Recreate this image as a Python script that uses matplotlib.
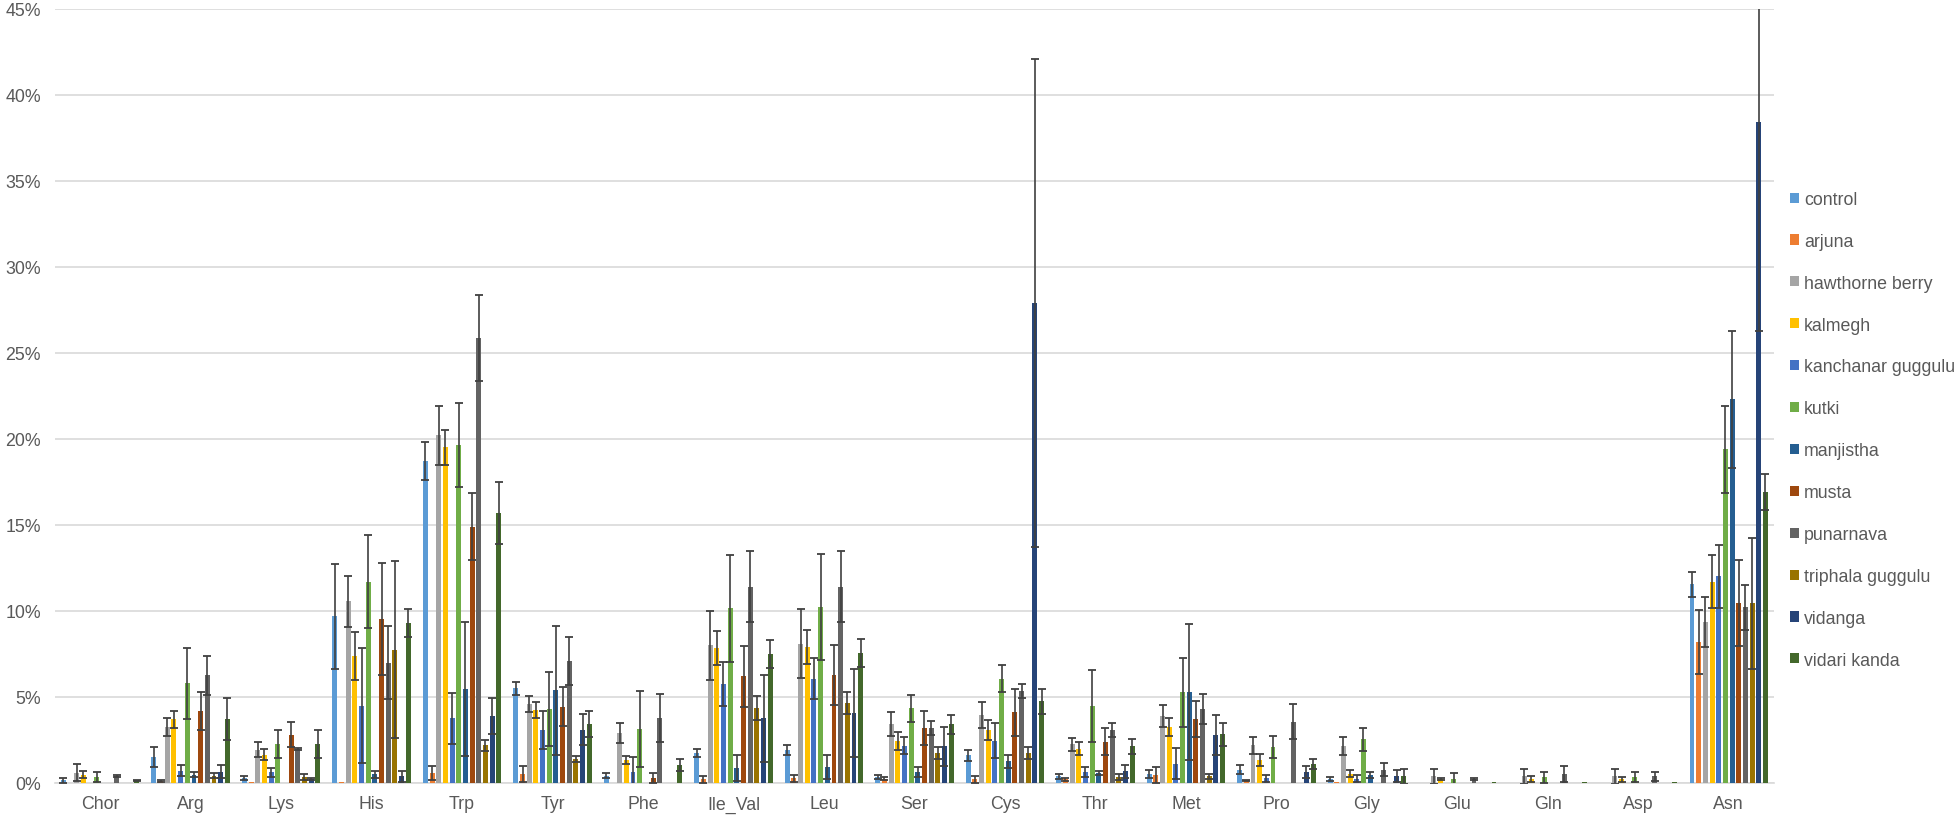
#!/usr/bin/env python3

import matplotlib
matplotlib.use("Agg")
import matplotlib.pyplot as plt
from matplotlib.patches import Patch
from matplotlib.ticker import PercentFormatter
import numpy as np

categories = ['Chor', 'Arg', 'Lys', 'His', 'Trp', 'Tyr', 'Phe', 'Ile_Val', 'Leu', 'Ser',
              'Cys', 'Thr', 'Met', 'Pro', 'Gly', 'Glu', 'Gln', 'Asp', 'Asn']

series_names = ['control', 'arjuna', 'hawthorne berry', 'kalmegh', 'kanchanar guggulu',
                'kutki', 'manjistha', 'musta', 'punarnava', 'triphala guggulu',
                'vidanga', 'vidari kanda']

colors = ['#5B9BD5', '#ED7D31', '#A5A5A5', '#FFC000', '#4472C4', '#70AD47',
          '#255E91', '#9E480E', '#636363', '#997300', '#264478', '#43682B']

# mean values (%) per series, one per category
control = [0.15, 1.5, 0.3, 9.7, 18.7, 5.5, 0.43, 1.75, 1.9, 0.35, 1.6, 0.38, 0.53, 0.78, 0.24, 0, 0, 0, 11.55]
arjuna = [0, 0.1, 0.05, 0.05, 0.58, 0.54, 0, 0.2, 0.27, 0.25, 0.2, 0.2, 0.47, 0.14, 0.05, 0, 0, 0, 8.2]
hawthorne = [0.6, 3.25, 1.92, 10.55, 20.2, 4.58, 2.9, 8.0, 8.1, 3.4, 3.95, 2.25, 3.9, 2.2, 2.16, 0.39, 0.39, 0.39, 9.35]
kalmegh = [0.47, 3.7, 1.65, 7.4, 19.5, 4.24, 1.34, 7.85, 7.9, 2.44, 3.08, 1.98, 3.27, 1.35, 0.53, 0.23, 0.23, 0.2, 11.7]
kanchanar = [0, 0.72, 0.62, 4.5, 3.75, 3.08, 0.62, 5.75, 6.05, 2.17, 2.44, 0.63, 1.12, 0.27, 0.24, 0, 0, 0, 12.0]
kutki = [0.33, 5.8, 2.25, 11.7, 19.65, 4.28, 3.14, 10.15, 10.2, 4.33, 6.06, 4.48, 5.27, 2.1, 2.53, 0.2, 0.33, 0.33, 19.4]
manjistha = [0, 0.48, 0, 0.5, 5.45, 5.38, 0, 0.87, 0.95, 0.63, 1.25, 0.58, 5.29, 0, 0.47, 0, 0, 0, 22.3]
musta = [0, 4.2, 2.8, 9.55, 14.9, 4.44, 0.3, 6.2, 6.25, 3.2, 4.1, 2.4, 3.73, 0, 0, 0, 0, 0, 10.45]
punarnava = [0.4, 6.25, 1.96, 7.0, 25.85, 7.08, 3.78, 11.4, 11.4, 3.2, 5.35, 3.08, 4.31, 3.57, 0.78, 0.23, 0.52, 0.39, 10.2]
triphala = [0, 0.43, 0.33, 7.75, 2.18, 1.38, 0, 4.34, 4.63, 1.73, 1.73, 0.35, 0.39, 0, 0, 0, 0, 0, 10.45]
vidanga = [0, 0.66, 0.23, 0.38, 3.88, 3.08, 0, 3.76, 4.07, 2.13, 27.9, 0.67, 2.78, 0.63, 0.43, 0, 0, 0, 38.4]
vidari = [0.15, 3.72, 2.27, 9.3, 15.7, 3.44, 1.05, 7.5, 7.56, 3.4, 4.75, 2.12, 2.82, 1.12, 0.39, 0.05, 0.08, 0.05, 16.9]

# error (+/-, %)
control_err = [0.13, 0.6, 0.13, 3.05, 1.1, 0.38, 0.15, 0.23, 0.29, 0.1, 0.33, 0.13, 0.24, 0.24, 0.1, 0, 0, 0, 0.73]
arjuna_err = [0, 0.05, 0, 0, 0.42, 0.46, 0, 0.23, 0.2, 0.1, 0.2, 0.1, 0.45, 0.05, 0, 0, 0, 0, 1.85]
hawthorne_err = [0.5, 0.55, 0.43, 1.46, 1.72, 0.46, 0.56, 2.0, 2.0, 0.7, 0.77, 0.38, 0.65, 0.49, 0.53, 0.43, 0.43, 0.43, 1.46]
kalmegh_err = [0.2, 0.5, 0.33, 1.4, 1.02, 0.44, 0.25, 1.0, 0.97, 0.5, 0.58, 0.38, 0.53, 0.35, 0.2, 0.05, 0.2, 0.15, 1.55]
kanchanar_err = [0, 0.33, 0.27, 3.36, 1.5, 1.12, 0.9, 1.26, 1.2, 0.48, 1.02, 0.29, 0.92, 0.2, 0.2, 0, 0, 0, 1.84]
kutki_err = [0.3, 2.07, 0.8, 2.72, 2.44, 2.16, 2.19, 3.1, 3.08, 0.77, 0.77, 2.1, 2.02, 0.63, 0.65, 0.37, 0.33, 0.3, 2.54]
manjistha_err = [0, 0.14, 0, 0.2, 3.9, 3.76, 0, 0.76, 0.7, 0.3, 0.38, 0.1, 3.96, 0, 0.16, 0, 0, 0, 4.0]
musta_err = [0, 1.1, 0.72, 3.26, 1.94, 1.16, 0.3, 1.78, 1.74, 1.0, 1.38, 0.77, 1.06, 0, 0, 0, 0, 0, 2.5]
punarnava_err = [0.05, 1.15, 0.05, 2.12, 2.5, 1.4, 1.4, 2.07, 2.07, 0.4, 0.42, 0.42, 0.88, 1.04, 0.39, 0.05, 0.45, 0.27, 1.32]
triphala_err = [0, 0.15, 0.17, 5.16, 0.3, 0.16, 0, 0.7, 0.64, 0.33, 0.33, 0.17, 0.14, 0, 0, 0, 0, 0, 3.8]
vidanga_err = [0, 0.4, 0.05, 0.32, 1.06, 0.9, 0, 2.52, 2.56, 1.13, 14.2, 0.38, 1.14, 0.35, 0.35, 0, 0, 0, 12.1]
vidari_err = [0.03, 1.22, 0.8, 0.8, 1.82, 0.76, 0.35, 0.83, 0.81, 0.54, 0.73, 0.42, 0.65, 0.29, 0.43, 0, 0, 0, 1.03]

means = [control, arjuna, hawthorne, kalmegh, kanchanar, kutki, manjistha, musta,
         punarnava, triphala, vidanga, vidari]
errors = [control_err, arjuna_err, hawthorne_err, kalmegh_err, kanchanar_err, kutki_err,
          manjistha_err, musta_err, punarnava_err, triphala_err, vidanga_err, vidari_err]

TEXT_COLOR = '#595959'
GRID_COLOR = '#D9D9D9'
FONT = 12.8

plt.rcParams['font.family'] = ['Liberation Sans', 'DejaVu Sans']

fig = plt.figure(figsize=(19.55, 8.2), dpi=100)
ax = fig.add_axes([0.0281, 0.044, 0.8793, 0.944])

n = len(series_names)
x = np.arange(len(categories))
group = 0.885
slot = group / n
width = slot * 0.74

for i in range(n):
    pos = x - group / 2 + slot * (i + 0.5)
    vals = np.array(means[i])
    err = np.array(errors[i])
    ax.bar(pos, vals, width=width, color=colors[i], zorder=3, linewidth=0)
    mask = err > 0
    ax.errorbar(pos[mask], vals[mask], yerr=err[mask], fmt='none',
                ecolor='#404040', elinewidth=1.2, capsize=2.6, capthick=1.3, zorder=4)

ax.set_ylim(0, 45)
ax.set_xlim(-0.5, len(categories) - 0.5)
ax.set_yticks(np.arange(0, 46, 5))
ax.yaxis.set_major_formatter(PercentFormatter(100, decimals=0))
ax.set_xticks(x)
ax.set_xticklabels(categories)
ax.yaxis.grid(True, color=GRID_COLOR, linewidth=1.2, zorder=0)
ax.set_axisbelow(True)
ax.tick_params(axis='both', which='both', length=0, labelsize=FONT, colors=TEXT_COLOR)
ax.tick_params(axis='x', pad=9)
ax.tick_params(axis='y', pad=10)
for side in ['top', 'right', 'left']:
    ax.spines[side].set_visible(False)
ax.spines['bottom'].set_color(GRID_COLOR)
ax.spines['bottom'].set_linewidth(1.2)

handles = [Patch(facecolor=c, edgecolor='none') for c in colors]
fig.legend(handles, series_names, loc='upper left', bbox_to_anchor=(0.9156, 0.766),
           frameon=False, fontsize=FONT, labelcolor=TEXT_COLOR,
           handlelength=0.5, handleheight=0.5, handletextpad=0.3,
           labelspacing=1.4, borderpad=0, borderaxespad=0)

fig.savefig('out.png', dpi=100)
